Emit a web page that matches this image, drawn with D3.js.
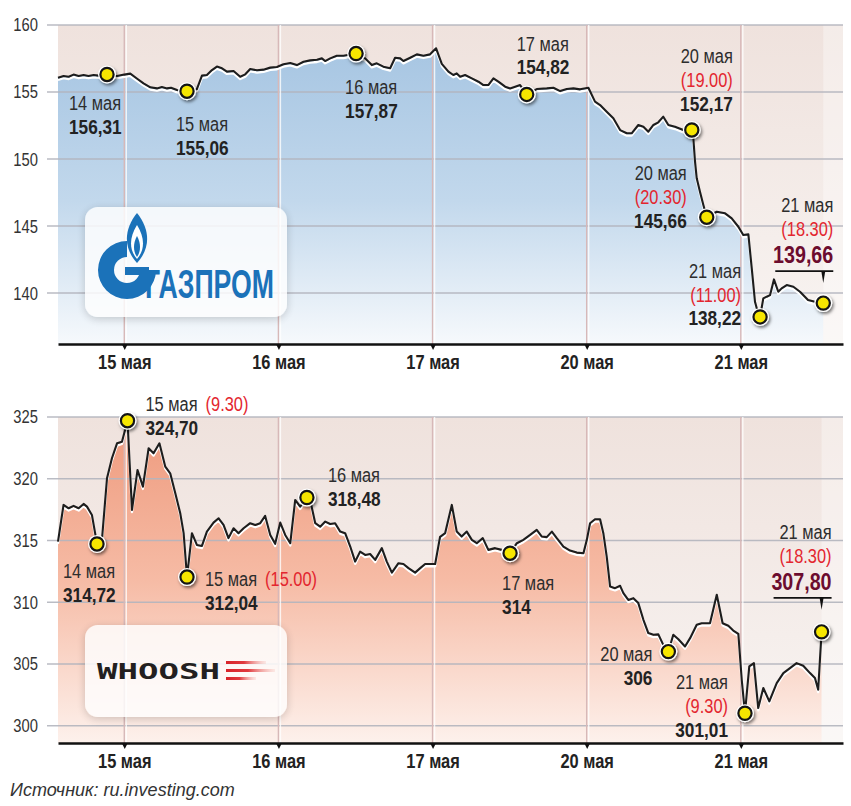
<!DOCTYPE html>
<html>
<head>
<meta charset="utf-8">
<style>
  body { margin: 0; background: #fff; }
</style>
</head>
<body>
<div id="svgContainer"></div>
<script src="https://d3js.org/d3.v7.min.js"></script>
<script>
// ---- data ----
// time is counted in trading days: 15 мая = 1, 16 = 2, 17 = 3, 20 = 4, 21 = 5
var days = [1, 2, 3, 4, 5];
var dayLabels = ["15 мая", "16 мая", "17 мая", "20 мая", "21 мая"];

var gazpromTicks = [140, 145, 150, 155, 160];
var gazpromTime = [0.57, 0.606, 0.639, 0.671, 0.704, 0.736, 0.768, 0.801, 0.833, 0.888, 0.953, 1.0, 1.039, 1.086, 1.125, 1.169, 1.212, 1.244, 1.277, 1.303, 1.342, 1.407, 1.471, 1.504, 1.536, 1.569, 1.601, 1.634, 1.666, 1.709, 1.752, 1.785, 1.817, 1.861, 1.903, 1.947, 1.990, 2.033, 2.077, 2.12, 2.163, 2.206, 2.25, 2.282, 2.303, 2.336, 2.379, 2.422, 2.504, 2.563, 2.606, 2.638, 2.681, 2.725, 2.757, 2.79, 2.811, 2.855, 2.898, 2.941, 2.984, 3.023, 3.06, 3.103, 3.135, 3.157, 3.179, 3.211, 3.255, 3.298, 3.33, 3.362, 3.395, 3.427, 3.471, 3.503, 3.536, 3.568, 3.611, 3.676, 3.741, 3.784, 3.828, 3.871, 3.914, 3.957, 4.011, 4.054, 4.087, 4.13, 4.173, 4.217, 4.26, 4.292, 4.335, 4.368, 4.4, 4.433, 4.465, 4.497, 4.53, 4.573, 4.627, 4.682, 4.692, 4.703, 4.714, 4.735, 4.757, 4.779, 4.844, 4.898, 4.941, 4.984, 5.016, 5.049, 5.071, 5.092, 5.114, 5.125, 5.146, 5.168, 5.19, 5.215, 5.243, 5.265, 5.298, 5.341, 5.384, 5.436, 5.481, 5.535];
var gazpromPrice = [156.07, 156.2, 156.14, 156.3, 156.2, 156.27, 156.2, 156.27, 156.22, 156.31, 156.2, 156.3, 156.37, 155.97, 155.65, 155.35, 155.27, 155.37, 155.27, 155.32, 155.15, 155.06, 155.22, 156.22, 156.27, 156.64, 156.9, 156.77, 156.52, 156.57, 156.14, 156.32, 156.72, 156.62, 156.67, 156.82, 156.87, 157.07, 157.16, 157.01, 157.26, 157.36, 157.41, 157.51, 157.31, 157.51, 157.71, 157.71, 157.87, 157.51, 157.01, 157.14, 156.89, 156.77, 157.56, 157.51, 157.31, 157.56, 157.81, 157.71, 157.81, 158.26, 157.1, 156.52, 156.27, 156.39, 156.14, 156.27, 156.02, 155.77, 155.52, 155.52, 156.02, 155.77, 155.4, 155.27, 155.4, 155.52, 154.82, 155.22, 155.27, 155.32, 155.07, 155.22, 155.27, 155.2, 155.32, 154.28, 154.03, 153.53, 153.04, 152.16, 151.92, 151.92, 152.54, 152.41, 152.04, 152.54, 152.74, 153.16, 152.54, 152.41, 152.16, 152.17, 151.54, 149.8, 148.56, 147.56, 146.57, 145.66, 146.07, 145.95, 145.57, 144.95, 144.33, 144.38, 141.84, 139.35, 138.4, 138.22, 139.6, 139.73, 139.85, 141.02, 140.1, 140.35, 140.6, 140.47, 140.1, 139.48, 139.35, 139.25];
var gazpromMarkTime = [0.888, 1.407, 2.504, 3.611, 4.682, 4.779, 5.125, 5.535];
var gazpromMarkDate = ["14 мая", "15 мая", "16 мая", "17 мая", "20 мая", "20 мая", "21 мая", "21 мая"];
var gazpromMarkHour = ["", "", "", "", "(19.00)", "(20.30)", "(11.00)", "(18.30)"];
var gazpromMarkText = ["156,31", "155,06", "157,87", "154,82", "152,17", "145,66", "138,22", "139,66"];

var whooshTicks = [300, 305, 310, 315, 320, 325];
var whooshTime = [0.57, 0.606, 0.639, 0.671, 0.704, 0.736, 0.758, 0.79, 0.823, 0.855, 0.888, 0.92, 0.953, 0.985, 1.021, 1.05, 1.086, 1.121, 1.158, 1.19, 1.228, 1.266, 1.298, 1.331, 1.363, 1.385, 1.407, 1.439, 1.471, 1.504, 1.536, 1.579, 1.612, 1.644, 1.676, 1.709, 1.741, 1.774, 1.817, 1.85, 1.882, 1.914, 1.947, 1.979, 2.012, 2.044, 2.077, 2.109, 2.141, 2.185, 2.206, 2.239, 2.271, 2.304, 2.336, 2.368, 2.401, 2.433, 2.466, 2.498, 2.53, 2.563, 2.595, 2.628, 2.671, 2.703, 2.736, 2.779, 2.811, 2.844, 2.887, 2.92, 2.952, 3.017, 3.049, 3.082, 3.125, 3.157, 3.189, 3.222, 3.255, 3.287, 3.326, 3.362, 3.406, 3.449, 3.503, 3.547, 3.589, 3.633, 3.676, 3.709, 3.741, 3.774, 3.806, 3.849, 3.892, 3.936, 3.979, 4.001, 4.022, 4.054, 4.087, 4.108, 4.13, 4.152, 4.184, 4.217, 4.238, 4.27, 4.303, 4.335, 4.368, 4.4, 4.433, 4.465, 4.497, 4.53, 4.562, 4.595, 4.638, 4.671, 4.714, 4.746, 4.8, 4.844, 4.882, 4.919, 4.951, 4.984, 5.006, 5.027, 5.055, 5.085, 5.113, 5.146, 5.185, 5.233, 5.276, 5.319, 5.362, 5.405, 5.449, 5.481, 5.502, 5.524];
var whooshPrice = [314.91, 317.88, 317.61, 317.8, 317.61, 317.96, 317.74, 317.07, 314.72, 315.05, 320.04, 321.66, 322.87, 323.0, 324.70, 317.48, 320.71, 319.36, 322.47, 322.06, 322.87, 320.98, 320.44, 318.83, 317.21, 315.59, 312.04, 315.59, 314.64, 314.56, 315.72, 316.45, 316.8, 316.26, 315.19, 315.99, 315.59, 315.99, 316.4, 316.26, 316.4, 316.99, 315.45, 314.73, 316.45, 315.45, 314.78, 318.28, 317.74, 318.48, 318.28, 316.4, 316.12, 316.53, 316.34, 316.4, 315.72, 315.59, 314.51, 313.29, 314.1, 313.83, 313.91, 313.43, 314.38, 313.29, 312.4, 313.16, 313.1, 312.76, 312.4, 312.76, 313.1, 313.1, 315.3, 315.6, 317.88, 315.72, 315.32, 315.72, 315.05, 314.78, 315.19, 314.24, 314.38, 314.24, 313.97, 314.78, 315.05, 315.45, 315.86, 315.32, 315.27, 315.72, 315.19, 314.51, 314.18, 314.02, 313.97, 315.05, 316.4, 316.72, 316.72, 315.59, 313.7, 311.27, 311.14, 311.33, 310.74, 310.19, 310.33, 309.93, 308.58, 307.5, 307.36, 307.4, 306.55, 306.0, 307.36, 307.0, 306.42, 307.09, 308.17, 308.3, 308.3, 310.6, 308.3, 308.09, 307.71, 307.44, 303.72, 301.01, 304.8, 305.07, 301.43, 303.05, 301.97, 303.45, 304.26, 304.67, 305.07, 304.85, 304.26, 303.86, 302.91, 307.6];
var whooshMarkTime = [0.823, 1.021, 1.407, 2.185, 3.503, 4.53, 5.027, 5.524];
var whooshMarkDate = ["14 мая", "15 мая", "15 мая", "16 мая", "17 мая", "20 мая", "21 мая", "21 мая"];
var whooshMarkHour = ["", "(9.30)", "(15.00)", "", "", "", "(9.30)", "(18.30)"];
var whooshMarkText = ["314,72", "324,70", "312,04", "318,48", "314", "306", "301,01", "307,80"];

// ---- layout ----
var w = 851, h = 806;
var plotLeft = 58, plotRight = 843, tickLeft = 47;

var svg = d3.select("#svgContainer")
  .append("svg")
  .attr("width", w)
  .attr("height", h);

// condensed face if present, otherwise squeeze the regular one
var narrow = (function () {
  var t = svg.append("text").style("font-size", "40px").text("14 мая 0123");
  t.style("font-family", "'Liberation Sans Narrow', monospace");
  var a = t.node().getComputedTextLength();
  t.style("font-family", "monospace");
  var b = t.node().getComputedTextLength();
  t.remove();
  return a !== b;
})();
var FONT = narrow ? "'Liberation Sans Narrow', sans-serif" : "'Liberation Sans', sans-serif";
var SQUEEZE = narrow ? 1 : 0.82;
svg.attr("font-family", FONT);

function squeeze(sel) {
  if (SQUEEZE === 1) return;
  sel.each(function () {
    this.setAttribute("textLength", this.getComputedTextLength() * SQUEEZE);
    this.setAttribute("lengthAdjust", "spacingAndGlyphs");
  });
}

var defs = svg.append("defs");
function vGrad(id, y1, y2, stops) {
  var g = defs.append("linearGradient").attr("id", id)
    .attr("gradientUnits", "userSpaceOnUse")
    .attr("x1", 0).attr("x2", 0).attr("y1", y1).attr("y2", y2);
  stops.forEach(function (s) {
    g.append("stop").attr("offset", s[0]).attr("stop-color", s[1]);
  });
}
var dot = defs.append("filter").attr("id", "dotShadow")
  .attr("x", "-50%").attr("y", "-50%").attr("width", "200%").attr("height", "200%");
dot.append("feDropShadow").attr("dx", 1.5).attr("dy", 2).attr("stdDeviation", 1.6)
  .attr("flood-color", "#000").attr("flood-opacity", 0.5);
var boxF = defs.append("filter").attr("id", "boxShadow")
  .attr("x", "-20%").attr("y", "-30%").attr("width", "140%").attr("height", "160%");
boxF.append("feDropShadow").attr("dx", 0).attr("dy", 2).attr("stdDeviation", 4)
  .attr("flood-color", "#000").attr("flood-opacity", 0.22);

var x = d3.scaleLinear().domain([0.57, 5.663]).range([plotLeft, plotRight]);

var panels = [
  {
    id: "gaz", top: 25, bottom: 344, domain: [136.2, 160], ticks: gazpromTicks,
    time: gazpromTime, price: gazpromPrice,
    markTime: gazpromMarkTime, markDate: gazpromMarkDate, markHour: gazpromMarkHour, markText: gazpromMarkText,
    bg: [[0, "#efe2dd"], [1, "#f8f4f2"]],
    area: [[0, "#a3c3e1"], [0.55, "#c2d8ec"], [1, "#f6f9fc"]],
    place: [
      { dx: -38, dy: 28, a: "start" },
      { dx: -11, dy: 33, a: "start" },
      { dx: -11, dy: 33, a: "start" },
      { dx: -10, dy: -51, a: "start" },
      { dx: 41, dy: -74, a: "end" },
      { dx: -20, dy: -44, a: "end" },
      { dx: -19, dy: -46, a: "end" },
      { dx: 10, dy: -98, a: "end" }
    ]
  },
  {
    id: "whoosh", top: 417, bottom: 743, domain: [298.6, 325], ticks: whooshTicks,
    time: whooshTime, price: whooshPrice,
    markTime: whooshMarkTime, markDate: whooshMarkDate, markHour: whooshMarkHour, markText: whooshMarkText,
    bg: [[0, "#efe2dd"], [1, "#f8f4f2"]],
    area: [[0, "#ee9a7d"], [0.5, "#f6bba5"], [1, "#fdf1ec"]],
    place: [
      { dx: -34, dy: 27, a: "start" },
      { dx: 18, dy: -17, a: "start", inline: true },
      { dx: 18, dy: 2, a: "start", inline: true },
      { dx: 21, dy: -23, a: "start" },
      { dx: -8, dy: 30, a: "start" },
      { dx: -16, dy: 2, a: "end" },
      { dx: -17, dy: -31, a: "end" },
      { dx: 10, dy: -100, a: "end" }
    ]
  }
];

function valueAt(p, t) {
  var i = d3.minIndex(p.time, function (d) { return Math.abs(d - t); });
  return p.price[i];
}

function drawPanel(p, logo) {
  var y = d3.scaleLinear().domain(p.domain).range([p.bottom, p.top]);
  vGrad(p.id + "Bg", p.top, p.bottom, p.bg);
  vGrad(p.id + "Area", p.top, p.bottom, p.area);
  var g = svg.append("g");
  var pts = p.time.map(function (t, i) { return [t, p.price[i]]; });

  g.append("rect")
    .attr("x", plotLeft).attr("y", p.top)
    .attr("width", plotRight - plotLeft).attr("height", p.bottom - p.top)
    .attr("fill", "url(#" + p.id + "Bg)");

  var area = d3.area()
    .x(function (d) { return x(d[0]); })
    .y0(p.bottom)
    .y1(function (d) { return y(d[1]); });
  g.append("path").datum(pts).attr("d", area).attr("fill", "url(#" + p.id + "Area)");

  var lastX = x(p.time[p.time.length - 1]);
  g.append("rect")
    .attr("x", lastX).attr("y", p.top)
    .attr("width", plotRight - lastX).attr("height", p.bottom - p.top)
    .attr("fill", "#fff").attr("opacity", 0.35);

  // horizontal grid + y labels
  g.selectAll(".grid").data(p.ticks).join("line")
    .attr("x1", tickLeft).attr("x2", plotRight)
    .attr("y1", function (d) { return y(d); }).attr("y2", function (d) { return y(d); })
    .attr("stroke", "#b3b5be").attr("stroke-width", 1.6).attr("opacity", 0.9);
  g.selectAll(".ylab").data(p.ticks).join("text")
    .attr("x", 38).attr("y", function (d) { return y(d); })
    .attr("dy", "0.36em").attr("text-anchor", "end")
    .attr("font-size", 18).attr("fill", "#333")
    .text(function (d) { return d; })
    .call(squeeze);

  // day separators
  g.selectAll(".dayline").data(days).join("line")
    .attr("x1", function (d) { return x(d); }).attr("x2", function (d) { return x(d); })
    .attr("y1", p.top).attr("y2", p.bottom)
    .attr("stroke", "#d7b8b8").attr("stroke-width", 1.4);
  g.selectAll(".daywhite").data(days).join("line")
    .attr("x1", function (d) { return x(d) + 2; }).attr("x2", function (d) { return x(d) + 2; })
    .attr("y1", p.top).attr("y2", p.bottom)
    .attr("stroke", "#fff").attr("stroke-width", 1.4).attr("opacity", 0.8);

  logo(g);

  // price line with white underline
  var line = d3.line()
    .x(function (d) { return x(d[0]); })
    .y(function (d) { return y(d[1]); });
  g.append("path").datum(pts).attr("d", line)
    .attr("transform", "translate(0,2.3)")
    .attr("fill", "none").attr("stroke", "#fff").attr("stroke-width", 2.3)
    .attr("stroke-linejoin", "round");
  g.append("path").datum(pts).attr("d", line)
    .attr("fill", "none").attr("stroke", "#1d1d1d").attr("stroke-width", 2.1)
    .attr("stroke-linejoin", "round");

  // axis
  var ax = g.append("g")
    .attr("transform", "translate(0," + p.bottom + ")")
    .call(d3.axisBottom(x).tickValues(days)
      .tickFormat(function (d, i) { return dayLabels[i]; })
      .tickSize(0).tickSizeOuter(0).tickPadding(11));
  ax.select(".domain").attr("stroke", "#111").attr("stroke-width", 2.6);
  ax.selectAll(".tick text")
    .attr("font-family", FONT).attr("font-size", 20).attr("font-weight", "bold")
    .attr("fill", "#222").call(squeeze);
  ax.selectAll(".tick").append("path")
    .attr("d", "M-3,0L3,0L0,6Z").attr("fill", "#111");

  // annotations
  p.markTime.forEach(function (t, i) {
    var mx = x(t), my = y(valueAt(p, t));
    var pl = p.place[i];
    var tx = mx + pl.dx, ty = my + pl.dy;
    var last = i === p.markTime.length - 1;
    var rows = [];
    if (pl.inline) {
      rows.push("inline");
    } else {
      rows.push("date");
      if (p.markHour[i]) rows.push("hour");
    }
    rows.push("value");
    var gap = 23.5;
    rows.forEach(function (kind, k) {
      var ry = ty + k * gap + (kind === "value" && last ? 2 : 0);
      var tEl = g.append("text").attr("x", tx).attr("y", ry)
        .attr("dy", "0.36em").attr("text-anchor", pl.a);
      if (kind === "date" || kind === "inline") {
        tEl.attr("font-size", 20).attr("fill", "#2d2d2d").text(p.markDate[i]);
      } else if (kind === "hour") {
        tEl.attr("font-size", 20).attr("fill", "#e3262f").text(p.markHour[i]);
      } else {
        tEl.attr("font-size", last ? 24 : 21).attr("font-weight", "bold")
          .attr("fill", last ? "#6c0c2e" : "#222").text(p.markText[i]);
      }
      tEl.call(squeeze);
      if (kind === "inline") {
        var bb = tEl.node().getBBox();
        g.append("text").attr("x", bb.x + bb.width + 8).attr("y", ry)
          .attr("dy", "0.36em").attr("font-size", 20).attr("fill", "#e3262f")
          .text(p.markHour[i]).call(squeeze);
      }
    });
    if (last) {
      var uy = ty + 2 * gap + 19;
      g.append("line").attr("x1", tx - 58).attr("x2", tx).attr("y1", uy).attr("y2", uy)
        .attr("stroke", "#111").attr("stroke-width", 1.8);
      g.append("path").attr("d", "M" + (mx - 2) + "," + uy + "L" + (mx + 2) + "," + uy + "L" + mx + "," + (uy + 12) + "Z")
        .attr("fill", "#111");
    }
  });

  // markers
  g.selectAll(".mark").data(p.markTime).join("g")
    .attr("transform", function (t) { return "translate(" + x(t) + "," + y(valueAt(p, t)) + ")"; })
    .each(function () {
      var m = d3.select(this);
      m.append("circle").attr("r", 9).attr("fill", "#fff").attr("filter", "url(#dotShadow)");
      m.append("circle").attr("r", 6.6).attr("fill", "#f6e600")
        .attr("stroke", "#151515").attr("stroke-width", 2.2);
    });
}

function logoBox(g, bx, by, bw, bh) {
  g.append("rect").attr("x", bx).attr("y", by).attr("width", bw).attr("height", bh)
    .attr("rx", 13).attr("fill", "#fff").attr("opacity", 0.82)
    .attr("filter", "url(#boxShadow)");
}

function gazpromLogo(g) {
  var blue = "#1b72b9";
  logoBox(g, 85, 207, 202, 110);
  g.append("path")
    .attr("transform", "translate(127,270)")
    .attr("d", d3.arc().innerRadius(13).outerRadius(29).startAngle(Math.PI * 0.5).endAngle(Math.PI * 2)())
    .attr("fill", blue);
  g.append("rect").attr("x", 125).attr("y", 267).attr("width", 24).attr("height", 8).attr("fill", blue);
  g.append("path").attr("d", "M137,213C150,229 151,248 137,263C123,248 124,229 137,213Z").attr("fill", blue);
  g.append("path").attr("d", "M137,225C145,238 145,250 137,259C129,250 129,238 137,225Z").attr("fill", "#fff");
  g.append("path").attr("d", "M137,236C141,243 141,251 137,257C133,251 133,243 137,236Z").attr("fill", blue);
  g.append("text").attr("x", 145).attr("y", 298)
    .attr("font-family", "'Liberation Sans', sans-serif").attr("font-weight", "bold")
    .attr("font-size", 41).attr("fill", blue)
    .attr("textLength", 129).attr("lengthAdjust", "spacingAndGlyphs")
    .text("ГАЗПРОМ");
}

function whooshLogo(g) {
  logoBox(g, 85, 625, 202, 92);
  g.append("text").attr("x", 97).attr("y", 679)
    .attr("font-family", "'DejaVu Sans Mono', monospace").attr("font-weight", "bold")
    .attr("font-size", 21).attr("fill", "#231f20")
    .attr("textLength", 123).attr("lengthAdjust", "spacingAndGlyphs")
    .text("WHOOSH");
  var rg = defs.append("linearGradient").attr("id", "whooshRed");
  rg.append("stop").attr("offset", 0).attr("stop-color", "#d8232a");
  rg.append("stop").attr("offset", 0.45).attr("stop-color", "#e0393d");
  rg.append("stop").attr("offset", 1).attr("stop-color", "#f4a9a0").attr("stop-opacity", 0.2);
  [[661, 40], [669, 49], [677, 30]].forEach(function (s) {
    g.append("rect").attr("x", 226).attr("y", s[0]).attr("width", s[1]).attr("height", 3)
      .attr("fill", "url(#whooshRed)");
  });
}

drawPanel(panels[0], gazpromLogo);
drawPanel(panels[1], whooshLogo);

svg.append("text")
  .attr("x", 10).attr("y", 790).attr("dy", "0.36em")
  .attr("font-family", "'Liberation Sans', sans-serif")
  .attr("font-style", "italic").attr("font-size", 18).attr("fill", "#333")
  .text("Источник: ru.investing.com");
</script>
</body>
</html>
